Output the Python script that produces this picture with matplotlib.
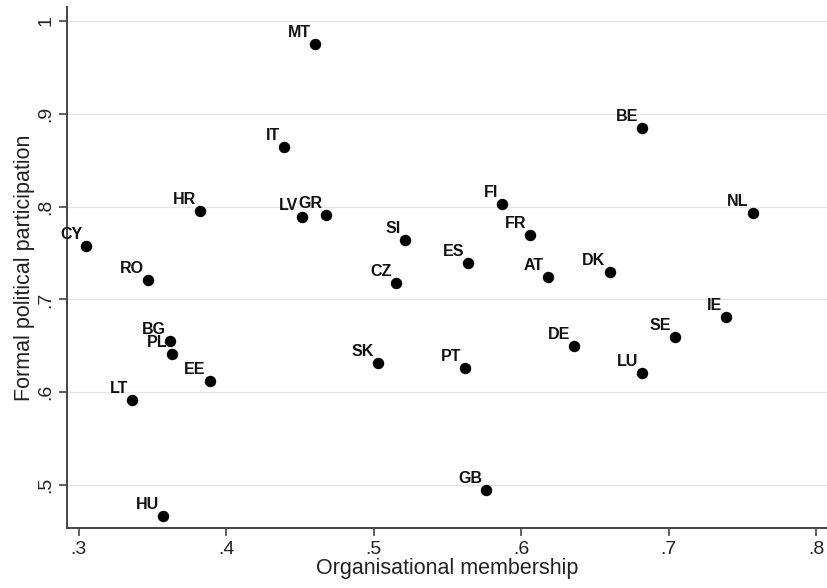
import matplotlib.pyplot as plt

plt.rcParams['font.family'] = ['Liberation Sans', 'DejaVu Sans']

countries = ['MT', 'IT', 'HR', 'LV', 'GR', 'CY', 'RO', 'SI', 'CZ', 'BE',
             'FI', 'NL', 'FR', 'ES', 'AT', 'DK', 'BG', 'PL', 'EE', 'LT',
             'HU', 'SK', 'IE', 'SE', 'DE', 'PT', 'LU', 'GB']
membership = [0.460, 0.4395, 0.382, 0.4515, 0.468, 0.305, 0.347, 0.521, 0.515, 0.682,
              0.587, 0.757, 0.606, 0.564, 0.618, 0.660, 0.3616, 0.363, 0.3887, 0.3363,
              0.357, 0.5028, 0.739, 0.7046, 0.636, 0.562, 0.682, 0.5765]
participation = [0.975, 0.864, 0.795, 0.789, 0.791, 0.758, 0.721, 0.764, 0.718, 0.885,
                 0.803, 0.793, 0.769, 0.739, 0.7245, 0.7295, 0.6555, 0.6417, 0.6116, 0.592,
                 0.467, 0.632, 0.681, 0.6595, 0.650, 0.6264, 0.621, 0.4946]

xticks = [0.3, 0.4, 0.5, 0.6, 0.7, 0.8]
xticklabels = ['.3', '.4', '.5', '.6', '.7', '.8']
yticks = [0.5, 0.6, 0.7, 0.8, 0.9, 1.0]
yticklabels = ['.5', '.6', '.7', '.8', '.9', '1']

fig = plt.figure(figsize=(8.27, 5.88), dpi=100)
ax = fig.add_axes([0.081, 0.102, 0.919, 0.886])

ax.scatter(membership, participation, s=52, color='black', zorder=3, clip_on=False)
for c, x, y in zip(countries, membership, participation):
    ax.annotate(c, (x, y), xytext=(-4, 4), textcoords='offset pixels',
                ha='right', va='bottom', fontsize=11.5, fontweight='bold',
                color='#111111', zorder=4)

ax.set_xlim(0.292, 0.8075)
ax.set_ylim(0.4537, 1.015)
ax.set_xticks(xticks)
ax.set_xticklabels(xticklabels)
ax.set_yticks(yticks)
ax.set_yticklabels(yticklabels, rotation=90, va='center')
ax.tick_params(labelsize=14, length=6, width=1.2, color='#444444', labelcolor='#222222', pad=3)

ax.grid(axis='y', color='#e6e6e6', linewidth=1)
ax.set_axisbelow(True)
for s in ['top', 'right']:
    ax.spines[s].set_visible(False)
for s in ['left', 'bottom']:
    ax.spines[s].set_color('#444444')
    ax.spines[s].set_linewidth(1.4)

ax.set_xlabel('Organisational membership', fontsize=15.5, color='#222222', labelpad=0)
ax.set_ylabel('Formal political participation', fontsize=15.5, color='#222222', labelpad=2)

fig.savefig('out.png', dpi=100)
